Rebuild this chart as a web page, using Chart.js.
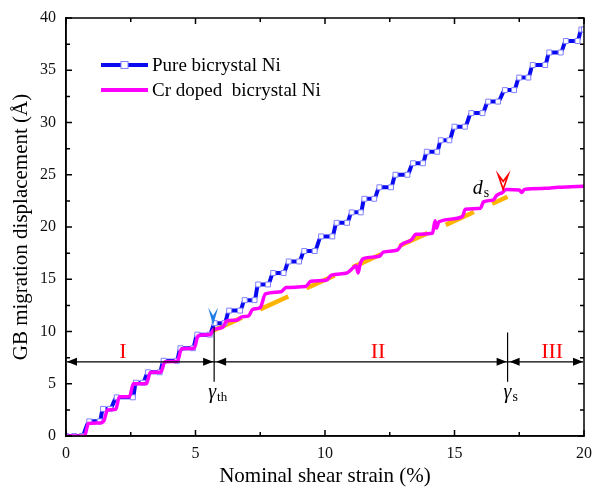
<!DOCTYPE html>
<html>
<head>
<meta charset="utf-8">
<script src="https://cdn.jsdelivr.net/npm/chart.js@4.4.0/dist/chart.umd.min.js"></script>
<style>
    html, body { margin: 0; padding: 0; background: #fff; }
    #wrap { width: 595px; height: 492px; }
</style>
</head>
<body>
<div id="wrap"><canvas id="gbChart" width="595" height="492"></canvas></div>
<script>
// =======================
// DATA
// =======================
const xTicks = [0, 5, 10, 15, 20];
const yTicks = [0, 5, 10, 15, 20, 25, 30, 35, 40];

// Pure bicrystal Ni: plateau start / end points of each step
const pureX = [0, 0.32, 0.62, 0.9, 1.3, 1.43, 1.7, 1.96, 2.58, 2.7, 2.97, 3.17, 3.62, 3.77, 4.28,
    4.42, 4.9, 5.07, 5.55, 5.74, 6.12, 6.3, 6.72, 6.9, 7.28, 7.42, 7.8, 8.0, 8.4, 8.6, 9.0,
    9.2, 9.6, 9.85, 10.28, 10.45, 10.85, 11.03, 11.38, 11.52, 11.9, 12.1, 12.55, 12.72, 13.18,
    13.4, 13.78, 13.93, 14.33, 14.47, 14.8, 15.0, 15.4, 15.65, 16.08, 16.3, 16.68, 16.95, 17.3,
    17.5, 17.85, 18.02, 18.5, 18.66, 19.1, 19.3, 19.75, 19.9, 20];
const pureY = [0, 0, 0, 1.4, 1.4, 2.6, 2.6, 3.7, 3.7, 5.1, 5.1, 6.1, 6.1, 7.2, 7.2,
    8.4, 8.4, 9.7, 9.7, 10.8, 10.8, 12.0, 12.0, 13.0, 13.0, 14.5, 14.5, 15.6, 15.6, 16.7, 16.7,
    17.7, 17.7, 19.1, 19.1, 20.4, 20.4, 21.4, 21.4, 22.7, 22.7, 23.8, 23.8, 25.0, 25.0,
    26.1, 26.1, 27.2, 27.2, 28.3, 28.3, 29.6, 29.6, 30.9, 30.9, 32.0, 32.0, 33.1, 33.1,
    34.3, 34.3, 35.5, 35.5, 36.7, 36.7, 37.8, 37.8, 38.9, 38.9];

// Cr doped bicrystal Ni
const crX = [0, 0.72, 0.86, 1.32, 1.47, 1.6, 1.92, 2.06, 2.45, 2.6, 3.1, 3.26, 3.66, 3.82, 4.3,
    4.46, 4.95, 5.1, 5.55, 5.72, 6.05, 6.2, 6.6, 6.8, 7.05, 7.2, 7.5, 7.7, 8.3, 8.5, 9.25,
    9.45, 10.05, 10.25, 10.85, 11.0, 11.2, 11.28, 11.36, 11.5, 12.1, 12.25, 12.8, 12.95, 13.35,
    13.5, 14.15, 14.25, 14.3, 14.4, 15.3, 15.42, 16.0, 16.12, 16.5, 16.62, 16.85, 17.0, 17.5,
    17.6, 17.7, 18.5, 19.0, 19.5, 20];
const crY = [0, 0, 1.2, 1.25, 1.5, 2.5, 2.55, 3.75, 3.75, 5.0, 5.0, 6.1, 6.1, 7.1, 7.15,
    8.35, 8.4, 9.6, 9.7, 10.2, 10.4, 11.0, 11.1, 11.4, 11.5, 12.1, 12.3, 13.6, 13.8, 14.2, 14.3,
    14.8, 14.9, 15.4, 15.6, 15.9, 16.3, 15.6, 16.5, 17.0, 17.2, 17.6, 17.8, 18.3, 18.8,
    19.3, 19.4, 20.6, 19.9, 20.5, 21.0, 21.7, 21.8, 22.4, 22.6, 23.0, 23.3, 23.6, 23.55,
    23.3, 23.6, 23.7, 23.8, 23.85, 23.9];

// linear fit of stage II (dashed)
const fitX = [5.7, 17.05];
const fitY = [10.1, 22.9];

// stage boundaries
const gammaTh = 5.72;
const gammaS = 17.05;
const stageArrowY = 7.1;

const BLUE = '#0a0af0';
const PINK = '#ff00ff';
const ORANGE = '#ffb400';
const SERIF = '"Liberation Serif", "Times New Roman", serif';

function toPoints(xs, ys) {
    return xs.map((x, i) => ({ x: x, y: ys[i] }));
}

// =======================
// DRAW HELPERS
// =======================
function arrowHead(ctx, x, y, dir) {
    ctx.beginPath();
    ctx.moveTo(x, y);
    ctx.lineTo(x - dir * 10, y - 4);
    ctx.lineTo(x - dir * 10, y + 4);
    ctx.closePath();
    ctx.fill();
}

function downMarker(ctx, x, yTop, yTip) {
    const h = yTip - yTop;
    ctx.beginPath();
    ctx.moveTo(x, yTip);
    ctx.lineTo(x - 5, yTop);
    ctx.lineTo(x, yTop + h * 0.45);
    ctx.lineTo(x + 5, yTop);
    ctx.closePath();
}

function subText(ctx, main, sub, x, y, mainFont, subFont) {
    ctx.font = mainFont;
    ctx.textAlign = 'left';
    ctx.textBaseline = 'alphabetic';
    ctx.fillText(main, x, y);
    const w = ctx.measureText(main).width;
    ctx.font = subFont;
    ctx.fillText(sub, x + w + 1, y + 3);
}

// =======================
// FRAME, INWARD TICKS, ANNOTATIONS, LEGEND
// =======================
const decorPlugin = {
    id: 'decor',
    afterDraw(chart) {
        const ctx = chart.ctx;
        const xs = chart.scales.x;
        const ys = chart.scales.y;
        const a = chart.chartArea;
        ctx.save();

        // frame
        ctx.strokeStyle = '#000';
        ctx.lineWidth = 1.5;
        ctx.strokeRect(a.left, a.top, a.right - a.left, a.bottom - a.top);

        // ticks pointing inside
        ctx.lineWidth = 1.5;
        for (let v = 0; v <= 20; v += 2.5) {
            const px = xs.getPixelForValue(v);
            const len = v % 5 === 0 ? 6 : 4;
            ctx.beginPath();
            ctx.moveTo(px, a.bottom); ctx.lineTo(px, a.bottom - len);
            ctx.moveTo(px, a.top); ctx.lineTo(px, a.top + len);
            ctx.stroke();
        }
        for (let v = 0; v <= 40; v += 2.5) {
            const py = ys.getPixelForValue(v);
            const len = v % 5 === 0 ? 6 : 4;
            ctx.beginPath();
            ctx.moveTo(a.left, py); ctx.lineTo(a.left + len, py);
            ctx.moveTo(a.right, py); ctx.lineTo(a.right - len, py);
            ctx.stroke();
        }

        // stage arrows
        const ay = ys.getPixelForValue(stageArrowY);
        const x0 = xs.getPixelForValue(0) + 1;
        const x1 = xs.getPixelForValue(gammaTh);
        const x2 = xs.getPixelForValue(gammaS);
        const x3 = xs.getPixelForValue(20) - 1;
        ctx.strokeStyle = '#000';
        ctx.fillStyle = '#000';
        ctx.lineWidth = 1.2;
        ctx.beginPath();
        ctx.moveTo(x0, ay); ctx.lineTo(x3, ay);
        ctx.moveTo(x1, ys.getPixelForValue(10.4)); ctx.lineTo(x1, ys.getPixelForValue(5.2));
        ctx.moveTo(x2, ys.getPixelForValue(9.9)); ctx.lineTo(x2, ys.getPixelForValue(5.2));
        ctx.stroke();
        arrowHead(ctx, x0, ay, -1);
        arrowHead(ctx, x1 - 1, ay, 1);
        arrowHead(ctx, x1 + 2, ay, -1);
        arrowHead(ctx, x2 - 1, ay, 1);
        arrowHead(ctx, x2 + 2, ay, -1);
        arrowHead(ctx, x3, ay, 1);

        // stage labels
        ctx.fillStyle = '#ff0000';
        ctx.font = '22px ' + SERIF;
        ctx.textAlign = 'center';
        ctx.textBaseline = 'alphabetic';
        ctx.fillText('I', xs.getPixelForValue(2.2), 358);
        ctx.fillText('II', xs.getPixelForValue(12.05), 358);
        ctx.fillText('III', xs.getPixelForValue(18.77), 358);

        // gamma labels
        ctx.fillStyle = '#000';
        subText(ctx, 'γ', 'th', x1 - 6, 398, 'italic 20px ' + SERIF, '13px ' + SERIF);
        subText(ctx, 'γ', 's', x2 - 4, 398, 'italic 20px ' + SERIF, '14px ' + SERIF);
        subText(ctx, 'd', 's', xs.getPixelForValue(15.7), 194, 'italic 20px ' + SERIF, '14px ' + SERIF);

        // markers at gamma_th and saturation
        ctx.fillStyle = '#1e7fe6';
        downMarker(ctx, xs.getPixelForValue(5.68), ys.getPixelForValue(12.3), ys.getPixelForValue(10.6));
        ctx.fill();
        ctx.strokeStyle = '#ff0000';
        ctx.lineWidth = 1.6;
        downMarker(ctx, xs.getPixelForValue(16.88), ys.getPixelForValue(25.0), ys.getPixelForValue(23.6));
        ctx.stroke();

        // legend
        ctx.lineWidth = 4;
        ctx.strokeStyle = BLUE;
        ctx.beginPath(); ctx.moveTo(101, 65); ctx.lineTo(148, 65); ctx.stroke();
        ctx.fillStyle = '#fff';
        ctx.strokeStyle = '#8080ff';
        ctx.lineWidth = 1;
        ctx.fillRect(121, 61.5, 7, 7);
        ctx.strokeRect(121, 61.5, 7, 7);
        ctx.lineWidth = 4;
        ctx.strokeStyle = PINK;
        ctx.beginPath(); ctx.moveTo(101, 90); ctx.lineTo(148, 90); ctx.stroke();
        ctx.fillStyle = '#000';
        ctx.font = '19px ' + SERIF;
        ctx.textAlign = 'left';
        ctx.textBaseline = 'middle';
        ctx.fillText('Pure bicrystal Ni', 152, 66);
        ctx.fillText('Cr doped  bicrystal Ni', 152, 91);

        ctx.restore();
    }
};

// =======================
// CHART
// =======================
const gbChart = new Chart(document.getElementById('gbChart'), {
    type: 'line',
    data: {
        datasets: [
            {
                label: 'Cr doped  bicrystal Ni',
                data: toPoints(crX, crY),
                borderColor: PINK,
                borderWidth: 3.5,
                pointRadius: 0,
                cubicInterpolationMode: 'monotone',
                order: 0
            },
            {
                label: 'Pure bicrystal Ni',
                data: toPoints(pureX, pureY),
                borderColor: BLUE,
                borderWidth: 4,
                pointStyle: 'rect',
                pointRadius: 3.5,
                pointBackgroundColor: '#fff',
                pointBorderColor: '#8080ff',
                pointBorderWidth: 1,
                cubicInterpolationMode: 'monotone',
                order: 1
            },
            {
                label: 'fit',
                data: toPoints(fitX, fitY),
                borderColor: ORANGE,
                borderWidth: 4.5,
                borderDash: [31, 20],
                pointRadius: 0,
                order: 2
            }
        ]
    },
    options: {
        responsive: false,
        animation: false,
        layout: { padding: { left: 0, right: 11, top: 18, bottom: 0 } },
        plugins: {
            legend: { display: false },
            tooltip: { enabled: false }
        },
        scales: {
            x: {
                type: 'linear',
                min: 0,
                max: 20,
                afterFit: s => { s.height = 56; s.paddingLeft = 0; s.paddingRight = 0; },
                afterBuildTicks: s => { s.ticks = xTicks.map(v => ({ value: v })); },
                grid: { display: true, drawOnChartArea: false, drawTicks: false },
                border: { display: true, color: '#000', width: 1.5 },
                ticks: { color: '#111', padding: 8, font: { family: SERIF, size: 16 } },
                title: {
                    display: true,
                    text: 'Nominal shear strain (%)',
                    color: '#000',
                    font: { family: SERIF, size: 21 },
                    padding: { top: 0, bottom: 3 }
                }
            },
            y: {
                type: 'linear',
                min: 0,
                max: 40,
                afterFit: s => { s.width = 66; s.paddingTop = 0; s.paddingBottom = 0; },
                afterBuildTicks: s => { s.ticks = yTicks.map(v => ({ value: v })); },
                grid: { display: true, drawOnChartArea: false, drawTicks: false },
                border: { display: true, color: '#000', width: 1.5 },
                ticks: { color: '#111', padding: 10, font: { family: SERIF, size: 16 } },
                title: {
                    display: true,
                    text: 'GB migration displacement (Å)',
                    color: '#000',
                    font: { family: SERIF, size: 21 },
                    padding: { top: 9, bottom: 0 }
                }
            }
        }
    },
    plugins: [decorPlugin]
});
</script>
</body>
</html>
